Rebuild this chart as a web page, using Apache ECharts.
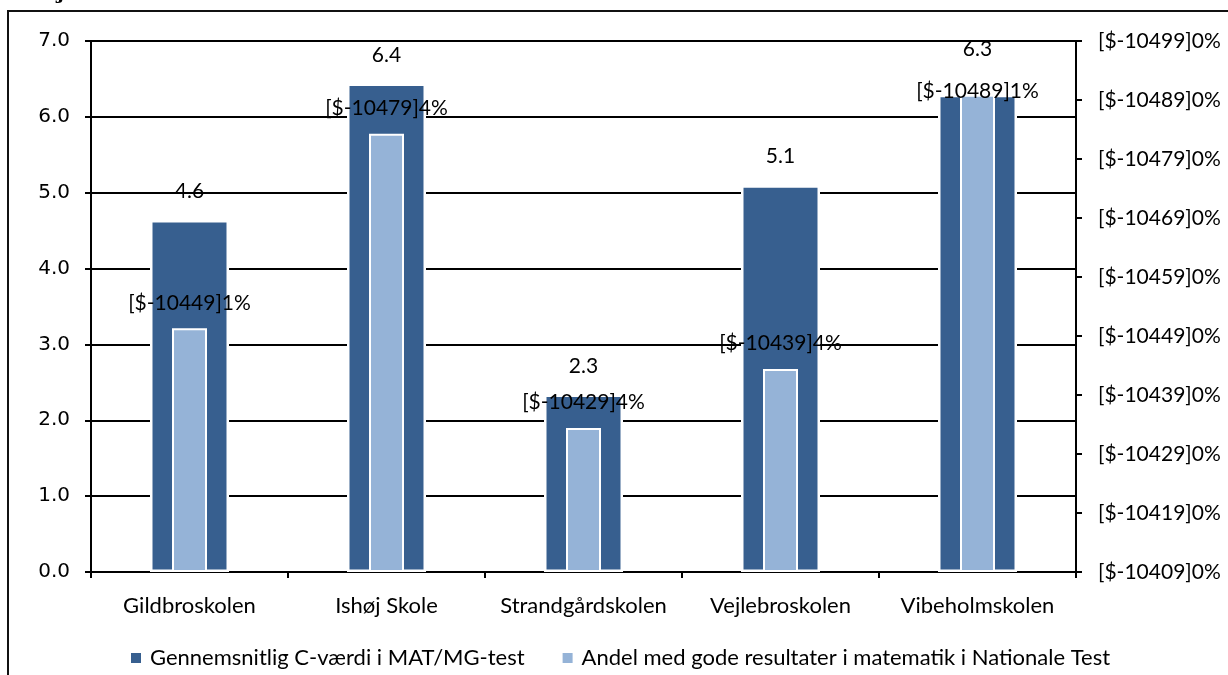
<!DOCTYPE html>
<html>
<head>
<meta charset="utf-8">
<script src="https://cdn.jsdelivr.net/npm/echarts@6/dist/echarts.min.js"></script>
<style>html,body{margin:0;padding:0;background:#fff;}#c{width:1228px;height:675px;}</style>
</head>
<body>
<div id="c"></div>
<script>
const categories = ['Gildbroskolen', 'Ishøj Skole', 'Strandgårdskolen', 'Vejlebroskolen', 'Vibeholmskolen'];
const seriesNames = ['Gennemsnitlig C-værdi i MAT/MG-test', 'Andel med gode resultater i matematik i Nationale Test'];
const cValues = [4.64, 6.44, 2.34, 5.1, 6.29];
const shareValues = [41.3, 74.3, 24.4, 34.4, 80.9];
const leftTicks = ['0.0', '1.0', '2.0', '3.0', '4.0', '5.0', '6.0', '7.0'];
const rightTicks = ['[$-10409]0%', '[$-10419]0%', '[$-10429]0%', '[$-10439]0%', '[$-10449]0%',
                    '[$-10459]0%', '[$-10469]0%', '[$-10479]0%', '[$-10489]0%', '[$-10499]0%'];

const DARK = '#375F8F';
const LIGHT = '#95B3D7';
const CAL = 'Lato, "Open Sans", sans-serif';

function shareLabel(v) {
  const r = Math.round(v);
  return '[$-104' + Math.floor(r / 10) + '9]' + (r % 10) + '%';
}

const chart = echarts.init(document.getElementById('c'), null, { renderer: 'canvas' });
chart.setOption({
  animation: false,
  backgroundColor: '#fff',
  graphic: [
    { type: 'rect', shape: { x: 8, y: 11, width: 1400, height: 800 }, style: { fill: 'none', stroke: '#111', lineWidth: 2 }, z: -10 },
    { type: 'text', x: 57, y: -15, style: { text: 'j', font: 'bold 19px "DejaVu Serif"', fill: '#000' } }
  ],
  legend: {
    top: 642,
    left: 124,
    itemWidth: 12, itemHeight: 12, itemGap: 36,
    icon: 'rect',
    textStyle: { fontFamily: CAL, fontSize: 22, color: '#000', padding: [0, 0, 0, 3] },
    data: seriesNames
  },
  grid: { left: 91, right: 152, top: 41, bottom: 103, containLabel: false },
  xAxis: [
    {
      type: 'category', data: categories,
      axisLine: { lineStyle: { color: '#000', width: 2 } },
      axisTick: { show: true, length: 6, lineStyle: { color: '#000', width: 2 } },
      axisLabel: { fontFamily: CAL, fontSize: 22, color: '#000', margin: 23, interval: 0 }
    },
    { type: 'category', data: categories, show: false }
  ],
  yAxis: [
    {
      type: 'value', min: 0, max: 7, interval: 1,
      axisLine: { show: true, lineStyle: { color: '#000', width: 2 } },
      axisTick: { show: true, length: 6, lineStyle: { color: '#000', width: 2 } },
      splitLine: { show: true, lineStyle: { color: '#000', width: 2 } },
      axisLabel: { fontFamily: '"DejaVu Sans"', fontSize: 20, color: '#000', margin: 21,
        formatter: v => leftTicks[Math.round(v)] }
    },
    {
      type: 'value', min: 0, max: 90, interval: 10, position: 'right',
      axisLine: { show: true, lineStyle: { color: '#000', width: 2 } },
      axisTick: { show: true, length: 6, lineStyle: { color: '#000', width: 2 } },
      splitLine: { show: false },
      axisLabel: { fontFamily: CAL, fontSize: 21, color: '#000', margin: 22,
        formatter: v => rightTicks[Math.round(v / 10)] }
    }
  ],
  series: [
    {
      name: seriesNames[0], type: 'bar', xAxisIndex: 0, yAxisIndex: 0,
      barWidth: 79,
      itemStyle: { color: DARK, borderColor: '#fff', borderWidth: 2.5 },
      label: { show: true, position: 'top', distance: 18, fontFamily: CAL, fontSize: 21, color: '#000',
        formatter: p => p.value.toFixed(1) },
      data: cValues.map((v, i) => i === 4 ? { value: v, label: { offset: [0, -17] } } : v),
      z: 2
    },
    {
      name: seriesNames[1], type: 'bar', xAxisIndex: 1, yAxisIndex: 1,
      barWidth: 35,
      itemStyle: { color: LIGHT, borderColor: '#fff', borderWidth: 2 },
      label: { show: true, position: 'top', distance: 15, fontFamily: CAL, fontSize: 21, color: '#000',
        formatter: p => shareLabel(p.value) },
      data: shareValues.map((v, i) => i === 4 ? { value: v, label: { offset: [0, 22] } } : v),
      z: 3
    }
  ]
});
</script>
</body>
</html>
